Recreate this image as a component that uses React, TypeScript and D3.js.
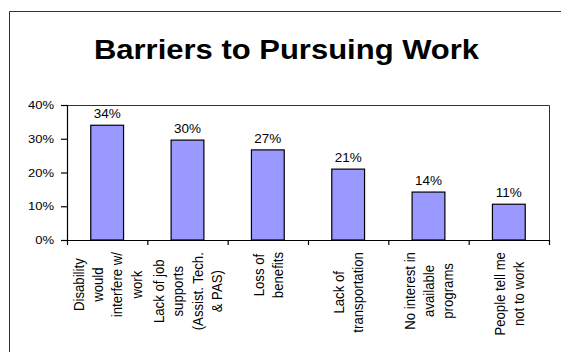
import React, { useMemo } from "react";
import * as d3 from "d3";

const title = "Barriers to Pursuing Work";
const categories: string[][] = [
  ["Disability", "would", "interfere w/", "work"],
  ["Lack of job", "supports", "(Assist. Tech.", "& PAS)"],
  ["Loss of", "benefits"],
  ["Lack of", "transportation"],
  ["No interest in", "available", "programs"],
  ["People tell me", "not to work"],
];
const values: number[] = [34, 29.6, 26.7, 21, 14.2, 10.6];
const yTicks: number[] = [0, 10, 20, 30, 40];

const W = 561;
const H = 352;
const SY = 0.88;
const FONT = "'Liberation Sans', Arial, sans-serif";

export default function App() {
  const plot = { left: 67, right: 549, top: 105, bottom: 240 };
  const x = d3
    .scaleBand<number>()
    .domain(d3.range(categories.length))
    .range([plot.left, plot.right])
    .padding(0);
  const y = d3.scaleLinear().domain([0, 40]).range([plot.bottom, plot.top]);
  const barW = x.bandwidth() / 2.45;
  const fmt = (v: number) => d3.format(".0f")(v) + "%";

  const measure = useMemo(() => {
    const c = document.createElement("canvas").getContext("2d");
    return (s: string, size: number) => {
      if (!c) return s.length * size * 0.5;
      c.font = `${size}px 'Liberation Sans'`;
      return c.measureText(s).width;
    };
  }, []);

  const catFont = 15;
  const lineGap = 19.3;
  const labelTop = 252;

  return (
    <svg
      width={W}
      height={H}
      style={{ position: "absolute", left: 0, top: 0, display: "block", background: "#fff" }}
      fontFamily={FONT}
    >
      <rect x={0} y={0} width={W} height={H} fill="#fff" />
      {/* outer frame */}
      <path d={`M9.5,${H} V11.5 H${W}`} fill="none" stroke="#333" strokeWidth={1} />

      {/* title */}
      <text
        transform={`translate(286.5,59) scale(1,${SY})`}
        textAnchor="middle"
        fontSize={31}
        fontWeight="bold"
        fill="#000"
      >
        {title}
      </text>

      {/* plot frame top & right */}
      <path
        d={`M${plot.left},${plot.top + 0.5} H${plot.right + 0.5} V${plot.bottom}`}
        fill="none"
        stroke="#333"
        strokeWidth={1}
      />

      {/* bars */}
      {values.map((v, i) => {
        const cx = (x(i) as number) + x.bandwidth() / 2;
        return (
          <g key={i}>
            <rect
              x={cx - barW / 2}
              y={y(v)}
              width={barW}
              height={y(0) - y(v)}
              fill="#9999FF"
              stroke="#000"
              strokeWidth={1.2}
            />
            <text
              transform={`translate(${cx},${y(v) - 7}) scale(1,${SY})`}
              textAnchor="middle"
              fontSize={13.5}
              fill="#000"
            >
              {fmt(v)}
            </text>
          </g>
        );
      })}

      {/* y axis */}
      <line x1={plot.left + 0.5} x2={plot.left + 0.5} y1={plot.top} y2={plot.bottom} stroke="#000" strokeWidth={1.2} />
      {yTicks.map((t) => (
        <g key={t}>
          <line x1={plot.left - 6} x2={plot.left} y1={y(t) + 0.5} y2={y(t) + 0.5} stroke="#000" strokeWidth={1.2} />
          <text
            transform={`translate(${plot.left - 13},${y(t)}) scale(1,${SY})`}
            dy="0.36em"
            textAnchor="end"
            fontSize={13}
            fill="#000"
          >
            {t + "%"}
          </text>
        </g>
      ))}

      {/* x axis */}
      <line x1={plot.left} x2={plot.right + 0.5} y1={plot.bottom + 0.5} y2={plot.bottom + 0.5} stroke="#000" strokeWidth={1.2} />
      {d3.range(categories.length + 1).map((i) => {
        const tx = i < categories.length ? (x(i) as number) : plot.right;
        return (
          <line key={i} x1={tx + 0.5} x2={tx + 0.5} y1={plot.bottom} y2={plot.bottom + 5} stroke="#000" strokeWidth={1.2} />
        );
      })}

      {/* category labels */}
      {categories.map((lines, i) => {
        const cx = (x(i) as number) + x.bandwidth() / 2;
        const maxLen = d3.max(lines, (s) => measure(s, catFont)) as number;
        const cy = labelTop + (maxLen * SY) / 2;
        const n = lines.length;
        return (
          <g key={i}>
            {lines.map((s, j) => (
              <text
                key={j}
                transform={`translate(${cx + (j - (n - 1) / 2) * lineGap},${cy}) scale(1,${SY}) rotate(-90)`}
                dy="0.36em"
                textAnchor="middle"
                fontSize={catFont}
                fill="#000"
              >
                {s}
              </text>
            ))}
          </g>
        );
      })}
    </svg>
  );
}
